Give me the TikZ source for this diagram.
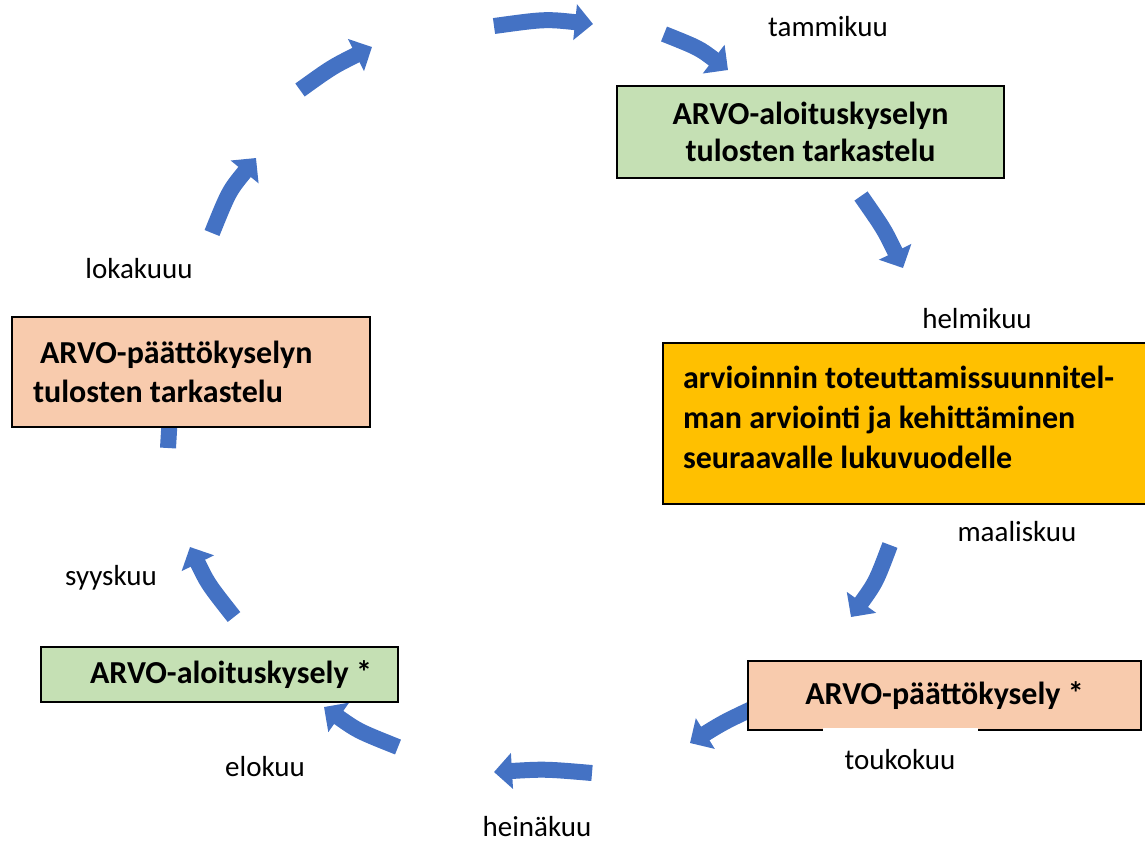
\documentclass[tikz,border=0pt]{standalone}
\usepackage{fontspec}
\setmainfont{Carlito}
\usetikzlibrary{arrows.meta,positioning}
\definecolor{arrowblue}{HTML}{4472C4}
\definecolor{boxgreen}{HTML}{C5E0B4}
\definecolor{boxpeach}{HTML}{F8CBAD}
\definecolor{boxgold}{HTML}{FFC000}

\begin{document}
\begin{tikzpicture}[x=0.5pt,y=-0.5pt,
 box/.style={draw,line width=0.8pt,inner sep=0pt,font=\bfseries\fontsize{16}{20}\selectfont},
 lab/.style={inner sep=0pt,font=\fontsize{14.5}{17}\selectfont},
 arr/.style={draw=arrowblue,line width=8pt,-{Triangle[length=9pt,width=17.5pt]}}]
\useasboundingbox (0,0) rectangle (1145,843);
% arrow ends
\coordinate (t1) at (212,233); \coordinate (h1) at (256,158);
\coordinate (t2) at (300,90);  \coordinate (h2) at (372,47);
\coordinate (t3) at (494,26);  \coordinate (h3) at (593,24);
\coordinate (t4) at (664,34);  \coordinate (h4) at (728,70);
\coordinate (t5) at (861,196); \coordinate (h5) at (903,268);
\coordinate (t6) at (890,545); \coordinate (h6) at (851,617);
\coordinate (t7) at (760,705); \coordinate (h7) at (690,743);
\coordinate (t8) at (592,773); \coordinate (h8) at (494,772);
\coordinate (t9) at (398,747); \coordinate (h9) at (324,707);
\coordinate (t10) at (234,617); \coordinate (h10) at (190,547);
\coordinate (t11) at (168,448); \coordinate (h11) at (172,380);
\draw[arr] (t1) .. controls (229,191) .. (h1);
\draw[arr] (t2) .. controls (332,67) .. (h2);
\draw[arr] (t3) .. controls (545,19) .. (h3);
\draw[arr] (t4) .. controls (699,48) .. (h4);
\draw[arr] (t5) .. controls (884,229) .. (h5);
\draw[arr] (t6) .. controls (876,582) .. (h6);
\draw[arr] (t7) .. controls (724,722) .. (h7);
\draw[arr] (t8) .. controls (545,769) .. (h8);
\draw[arr] (t9) .. controls (358,731) .. (h9);
\draw[arr] (t10) .. controls (208,584) .. (h10);
\draw[arr] (t11) -- (h11);
% boxes
\node[box,fill=boxgreen,minimum width=193.5pt,minimum height=46pt,align=center] (aloitus tulokset) at (810.5,132)
 {ARVO-aloituskyselyn\\[-1.5pt]tulosten tarkastelu};
\node[box,fill=boxgold,minimum height=80.5pt,inner xsep=10pt,text width=223.5pt,align=flush left] (suunnitelma) at (906.5,423.5)
 {arvioinnin toteuttamissuunnitel-\\man arviointi ja kehittäminen\\seuraavalle lukuvuodelle\\[-13.5pt]\mbox{}};
\node[box,fill=boxpeach,minimum width=196.5pt,minimum height=34.5pt] (paatto) at (944.5,695.5) {ARVO-päättökysely *};
\node[box,fill=boxgreen,minimum height=27.5pt,text width=178.5pt,align=flush left] (aloitus) at (219.5,674.5)
 {\hspace*{24.5pt}ARVO-aloituskysely *};
\node[box,fill=boxpeach,minimum height=55pt,inner xsep=10.5pt,text width=158pt,align=flush left] (paatto tulokset) at (191,372)
 {\hspace*{3.5pt}ARVO-päättökyselyn\\[-0.5pt]tulosten tarkastelu};
% months
\node[lab] (tammi) at (828,27) {tammikuu};
\node[lab] (helmi) at (977,319) {helmikuu};
\node[lab] (maalis) at (1017,532) {maaliskuu};
\node[lab,fill=white,minimum width=77.5pt,minimum height=32pt] (touko) at (900,760) {toukokuu};
\node[lab] (heina) at (537,827) {heinäkuu};
\node[lab] (elo) at (265,767) {elokuu};
\node[lab] (syys) at (111,578) {syyskuu};
\node[lab] (loka) at (139,269) {lokakuuu};
\end{tikzpicture}
\end{document}
